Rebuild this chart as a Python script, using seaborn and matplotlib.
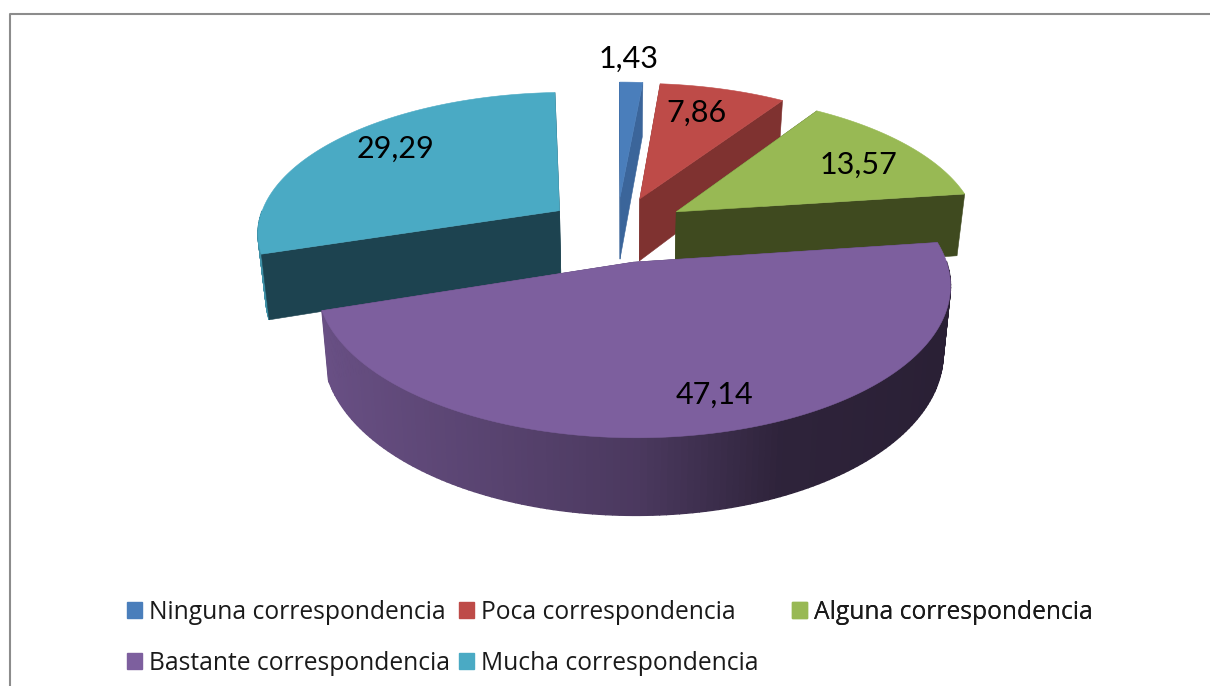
import numpy as np
import matplotlib
matplotlib.use("Agg")
import matplotlib.pyplot as plt
import seaborn as sns
from matplotlib.patches import Patch

categories = ["Ninguna correspondencia", "Poca correspondencia", "Alguna correspondencia",
              "Bastante correspondencia", "Mucha correspondencia"]
values = [1.43, 7.86, 13.57, 47.14, 29.29]
labels = ["1,43", "7,86", "13,57", "47,14", "29,29"]
top_colors = ["#4a7ebb", "#be4b48", "#98b954", "#7d5f9e", "#4aaac4"]
cut_colors = ["#3b659a", "#7f3230", "#3f4a1f", "#4f3c68", "#1d4350"]

sns.set_theme(style="white")
fig = plt.figure(figsize=(12.10, 6.86), dpi=100)
ax = fig.add_axes([0, 0, 1, 1])
ax.set_xlim(0, 1210)
ax.set_ylim(686, 0)
ax.axis("off")

CX, CY, RX, RT, K, DEPTH, EXP = 617.0, 229.0, 303.0, 140.0, 0.143, 64.0, 0.235


def proj(x, y, z=0.0):
    s = 1.0 / (1.0 + K * y)
    return CX + RX * x * s * (1 - 0.022 * z), CY - RT * y * s + DEPTH * z * s


def shade(color, f):
    r, g, b = matplotlib.colors.to_rgb(color)
    return (r * f, g * f, b * f)


ends = 90 - np.cumsum(values) * 3.6
starts = np.r_[90.0, ends[:-1]]
wedges = []
for st, en in zip(starts, ends):
    mid = np.radians((st + en) / 2)
    ox, oy = EXP * np.cos(mid), EXP * np.sin(mid)
    wedges.append((np.radians(st), np.radians(en), ox, oy))


def quad(x0, y0, x1, y1, color, zo, lw=0.4):
    p = [proj(x0, y0), proj(x1, y1), proj(x1, y1, 1), proj(x0, y0, 1)]
    ax.fill(*zip(*p), color=color, lw=lw, ec=color, zorder=zo)


order = [0, 4, 1, 2, 3]
for z, i in enumerate(order):
    st, en, ox, oy = wedges[i]
    zo = 2 + z * 3
    th = np.linspace(st, en, 160)
    xs, ys = ox + np.cos(th), oy + np.sin(th)
    # cut faces: in front of the outer wall except on the front slice
    zc = zo if i == 3 else zo + 1.5
    quad(ox, oy, ox + np.cos(st), oy + np.sin(st), cut_colors[i], zc)
    quad(ox, oy, ox + np.cos(en), oy + np.sin(en), cut_colors[i], zc)
    # outer wall (front-facing part only), shaded by direction
    for k in range(len(th) - 1):
        m = (th[k] + th[k + 1]) / 2
        if np.sin(m) > 0.0:
            continue
        f = np.interp(np.cos(m), [-1, -0.45, 0.0, 0.4, 1], [0.85, 0.72, 0.60, 0.37, 0.33])
        quad(xs[k], ys[k], xs[k + 1], ys[k + 1], shade(top_colors[i], f), zo + 1, lw=1.0)
    # top face
    pts = [proj(ox, oy)] + [proj(p, q) for p, q in zip(xs, ys)]
    ax.fill(*zip(*pts), color=top_colors[i], lw=0.4, ec=top_colors[i], zorder=zo + 2)

lab_xy = [(629, 59), (697, 113), (858, 165), (714, 395), (395, 149)]
for t, (x, y) in zip(labels, lab_xy):
    ax.text(x, y, t, ha="center", va="center", fontsize=22, family="Lato", color="black", zorder=40)

# chart frame: only the top and left edges fall inside the screenshot
ax.plot([10, 10, 1210], [686, 14, 14], color="#8c8c8c", lw=1.5, zorder=50)

layout = [([0, 3], 127), ([1, 4], 459), ([2], 792)]
for idx, x in layout:
    leg = ax.legend(
        handles=[Patch(color=top_colors[i], label=categories[i]) for i in idx],
        loc="upper left", bbox_to_anchor=(x, 600), bbox_transform=ax.transData,
        frameon=False, prop={"family": "Open Sans", "size": 17.7}, handlelength=0.62, handleheight=0.62,
        handletextpad=0.29, labelspacing=1.05, borderpad=0, borderaxespad=0, labelcolor="#1a1a1a",
    )
    ax.add_artist(leg)

fig.savefig("out.png", dpi=100)
